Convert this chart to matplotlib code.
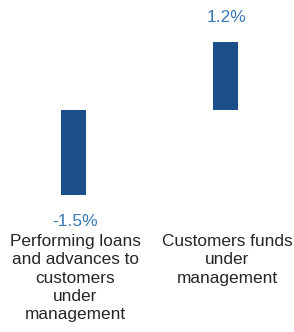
import matplotlib.pyplot as plt
import matplotlib.transforms as mtransforms

# data
categories = ["Performing loans\nand advances to\ncustomers\nunder\nmanagement",
              "Customers funds\nunder\nmanagement"]
values = [-1.5, 1.2]
value_labels = ["-1.5%", "1.2%"]

BAR_COLOR = "#1b4f8a"
VALUE_COLOR = "#3a78b8"
TEXT_COLOR = "#262626"

plt.rcParams["font.family"] = ["Liberation Sans", "DejaVu Sans"]

fig = plt.figure(figsize=(2.94, 3.32), dpi=100)
ax = fig.add_axes([0, 0, 1, 1])

x = list(range(len(values)))
ax.bar(x, values, width=0.165, color=BAR_COLOR)

ax.set_xlim(-0.4836, 1.4507)
ax.set_ylim(-3.93, 1.947)
ax.axis("off")

for xi, v, lab in zip(x, values, value_labels):
    if v >= 0:
        ax.annotate(lab, (xi, v), xytext=(1, 17.5), textcoords="offset points",
                    ha="center", va="center", fontsize=12.5, color=VALUE_COLOR)
    else:
        ax.annotate(lab, (xi, v), xytext=(1, -19), textcoords="offset points",
                    ha="center", va="center", fontsize=12.5, color=VALUE_COLOR)

trans = mtransforms.blended_transform_factory(ax.transData, ax.transAxes)
for xi, cat in zip(x, categories):
    ax.text(xi + 0.01, 0.295, cat, transform=trans, ha="center", va="top",
            fontsize=12.4, color=TEXT_COLOR, linespacing=1.28)

fig.savefig("out.png", dpi=100)
